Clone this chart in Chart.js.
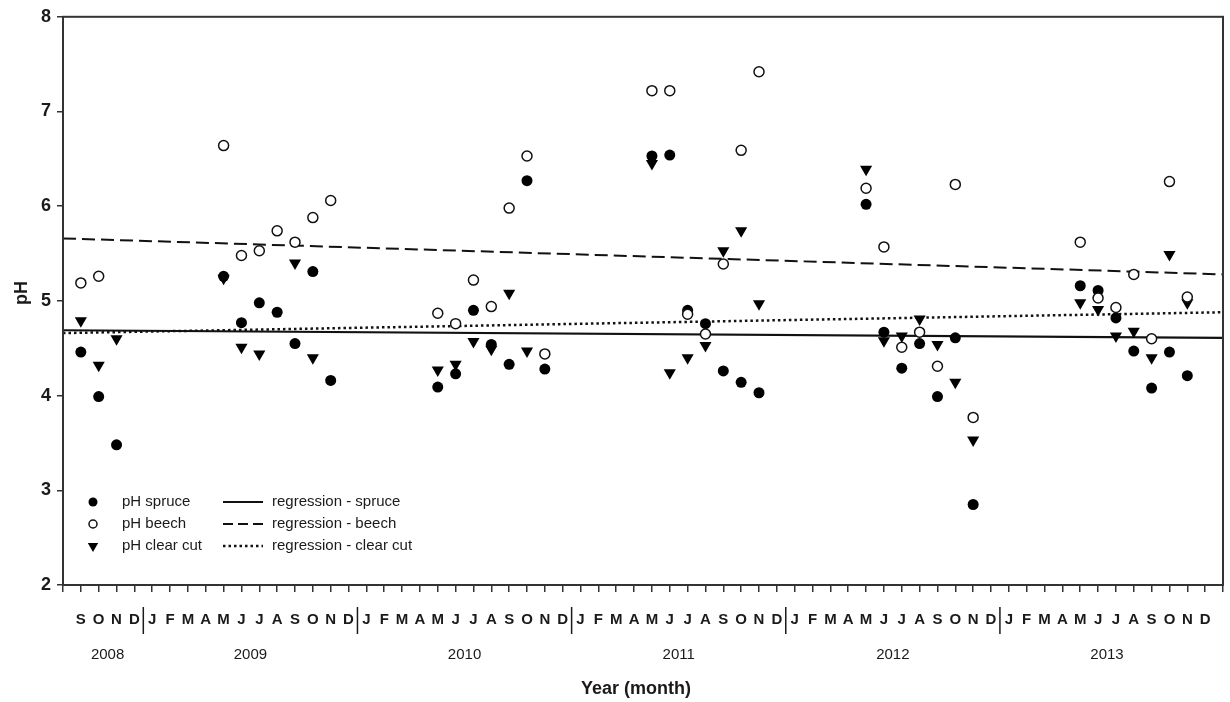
<!DOCTYPE html>
<html><head><meta charset="utf-8">
<script src="https://cdn.jsdelivr.net/npm/chart.js@4.4.1/dist/chart.umd.min.js"></script>
<style>html,body{margin:0;padding:0;background:#fff}#wrap{width:1230px;height:702px;position:relative}</style>
</head><body><div id="wrap"><canvas id="c"></canvas></div>
<script>
// ---- data ----
const monthLetters = ['J','F','M','A','M','J','J','A','S','O','N','D'];
const yearLabels = ['2008','2009','2010','2011','2012','2013'];
const firstMonth = '2008-09';
const lastMonth = '2013-12';
const sampleMonths = [
  '2008-09','2008-10','2008-11',
  '2009-05','2009-06','2009-07','2009-08','2009-09','2009-10','2009-11',
  '2010-05','2010-06','2010-07','2010-08','2010-09','2010-10','2010-11',
  '2011-05','2011-06','2011-07','2011-08','2011-09','2011-10','2011-11',
  '2012-05','2012-06','2012-07','2012-08','2012-09','2012-10','2012-11',
  '2013-05','2013-06','2013-07','2013-08','2013-09','2013-10','2013-11'
];
const phSpruce = [
  4.46, 3.99, 3.48,
  5.26, 4.77, 4.98, 4.88, 4.55, 5.31, 4.16,
  4.09, 4.23, 4.90, 4.54, 4.33, 6.27, 4.28,
  6.53, 6.54, 4.90, 4.76, 4.26, 4.14, 4.03,
  6.02, 4.67, 4.29, 4.55, 3.99, 4.61, 2.85,
  5.16, 5.11, 4.82, 4.47, 4.08, 4.46, 4.21
];
const phBeech = [
  5.19, 5.26, null,
  6.64, 5.48, 5.53, 5.74, 5.62, 5.88, 6.06,
  4.87, 4.76, 5.22, 4.94, 5.98, 6.53, 4.44,
  7.22, 7.22, 4.86, 4.65, 5.39, 6.59, 7.42,
  6.19, 5.57, 4.51, 4.67, 4.31, 6.23, 3.77,
  5.62, 5.03, 4.93, 5.28, 4.60, 6.26, 5.04
];
const phClearCut = [
  4.79, 4.32, 4.60,
  5.24, 4.51, 4.44, null, 5.40, 4.40, null,
  4.27, 4.33, 4.57, 4.49, 5.08, 4.47, null,
  6.45, 4.24, 4.40, 4.53, 5.53, 5.74, 4.97,
  6.39, 4.58, 4.63, 4.81, 4.54, 4.14, 3.53,
  4.98, 4.91, 4.63, 4.68, 4.40, 5.49, 4.98
];
// regression line end values (at axis start / axis end)
const regSpruce = [4.69, 4.61];
const regBeech = [5.66, 5.28];
const regClearCut = [4.66, 4.88];

// ---- helpers ----
function monthIndex(s){ const [y,m]=s.split('-').map(Number); const [y0,m0]=firstMonth.split('-').map(Number); return (y-y0)*12+(m-m0); }
const nMonths = monthIndex(lastMonth)+1;
const xMin = -1, xMax = nMonths;
function pts(vals){ return sampleMonths.map((s,i)=>({x:monthIndex(s),y:vals[i]})).filter(p=>p.y!==null); }
function reg(v){ return [{x:xMin,y:v[0]},{x:xMax,y:v[1]}]; }

const FONT = '"Liberation Sans", Arial, sans-serif';
const INK = '#1a1a1a';

const decor = {
  id:'decor',
  afterDraw(chart){
    const ctx = chart.ctx, a = chart.chartArea, xs = chart.scales.x;
    ctx.save();
    // frame
    ctx.strokeStyle = '#333'; ctx.lineWidth = 2;
    ctx.strokeRect(a.left, a.top, a.right-a.left, a.bottom-a.top);
    // month letters
    const [y0,m0] = firstMonth.split('-').map(Number);
    ctx.fillStyle = INK; ctx.textAlign='center'; ctx.textBaseline='middle';
    ctx.font = 'bold 15px '+FONT;
    const yearSpan = {};
    for(let i=0;i<nMonths;i++){
      const mm = (m0-1+i)%12;
      const yy = y0 + Math.floor((m0-1+i)/12);
      const px = xs.getPixelForValue(i);
      ctx.fillText(monthLetters[mm], px, 620);
      (yearSpan[yy] = yearSpan[yy] || []).push(px);
      if(mm===11 && i<nMonths-1){
        const sx = (px + xs.getPixelForValue(i+1))/2;
        ctx.strokeStyle = INK; ctx.lineWidth = 1.5;
        ctx.beginPath(); ctx.moveTo(sx,607); ctx.lineTo(sx,634); ctx.stroke();
      }
    }
    ctx.font = '15px '+FONT;
    yearLabels.forEach(y=>{
      const s = yearSpan[+y]; if(!s) return;
      ctx.fillText(y, (s[0]+s[s.length-1])/2, 655);
    });
    // axis titles
    ctx.font = 'bold 18px '+FONT;
    ctx.fillText('Year (month)', 636, 689);
    ctx.save(); ctx.translate(22, 293); ctx.rotate(-Math.PI/2);
    ctx.fillText('pH', 0, 0); ctx.restore();
    // legend
    const rows = [502, 524, 546];
    const ds = chart.data.datasets;
    const mk = [ds[5], ds[4], ds[3]]; // spruce, beech, clear cut
    const ln = [ds[0], ds[1], ds[2]];
    ctx.font = '15px '+FONT; ctx.textAlign='left';
    rows.forEach((ry,k)=>{
      const d = mk[k];
      ctx.fillStyle = d.backgroundColor; ctx.strokeStyle = d.borderColor; ctx.lineWidth = d.borderWidth;
      ctx.beginPath();
      if(d.pointStyle==='circle'){ ctx.arc(93, ry, d.legendRadius, 0, Math.PI*2); }
      else { const r=d.legendRadius; ctx.moveTo(93, ry+r); ctx.lineTo(93-r*0.866, ry-r*0.5); ctx.lineTo(93+r*0.866, ry-r*0.5); ctx.closePath(); }
      ctx.fill(); if(d.borderWidth>0) ctx.stroke();
      ctx.fillStyle = INK; ctx.fillText(d.label, 122, ry);
      const l = ln[k];
      ctx.strokeStyle = l.borderColor; ctx.lineWidth = l.borderWidth;
      ctx.setLineDash(l.legendDash||l.borderDash||[]);
      ctx.beginPath(); ctx.moveTo(223, ry); ctx.lineTo(263, ry); ctx.stroke(); ctx.setLineDash([]);
      ctx.fillText(l.label, 272, ry);
    });
    ctx.restore();
  }
};

new Chart(document.getElementById('c'), {
  type:'scatter',
  data:{ datasets:[
    {type:'line', label:'regression - spruce', data:reg(regSpruce), showLine:true, pointRadius:0, borderColor:'#111', borderWidth:2.2, borderDash:[], order:10},
    {type:'line', label:'regression - beech', data:reg(regBeech), showLine:true, pointRadius:0, borderColor:'#111', borderWidth:2, borderDash:[13,6], legendDash:[10,5], order:10},
    {type:'line', label:'regression - clear cut', data:reg(regClearCut), showLine:true, pointRadius:0, borderColor:'#111', borderWidth:2.5, borderDash:[2.5,3], order:10},
    {label:'pH clear cut', data:pts(phClearCut), pointStyle:'triangle', rotation:180, pointRadius:7, legendRadius:6, backgroundColor:'#000', borderColor:'#000', borderWidth:0, order:3},
    {label:'pH beech', data:pts(phBeech), pointStyle:'circle', pointRadius:5, legendRadius:4, backgroundColor:'#fff', borderColor:'#111', borderWidth:1.5, order:1},
    {label:'pH spruce', data:pts(phSpruce), pointStyle:'circle', pointRadius:5.5, legendRadius:4.5, backgroundColor:'#000', borderColor:'#000', borderWidth:0, order:2}
  ]},
  options:{
    responsive:true, maintainAspectRatio:false, animation:false,
    layout:{padding:{top:15,right:4,left:0,bottom:0}},
    plugins:{legend:{display:false}, tooltip:{enabled:false}},
    scales:{
      x:{type:'linear', min:xMin, max:xMax,
        ticks:{stepSize:1, autoSkip:false, maxRotation:0, callback:()=>'', font:{size:10}},
        grid:{display:true, drawOnChartArea:false, drawTicks:true, tickLength:7, color:'#333', lineWidth:1.5},
        border:{display:true, color:'#333', width:2},
        afterFit:s=>{s.height=117; s.paddingLeft=0; s.paddingRight=0;}},
      y:{min:2, max:8,
        ticks:{stepSize:1, color:INK, padding:6, font:{family:FONT, size:18, weight:'bold'}},
        grid:{display:true, drawOnChartArea:false, drawTicks:true, tickLength:6, color:'#333', lineWidth:1.5},
        border:{display:true, color:'#333', width:2},
        afterFit:s=>{s.width=63;}}
    }
  },
  plugins:[decor]
});
</script>
</body></html>
